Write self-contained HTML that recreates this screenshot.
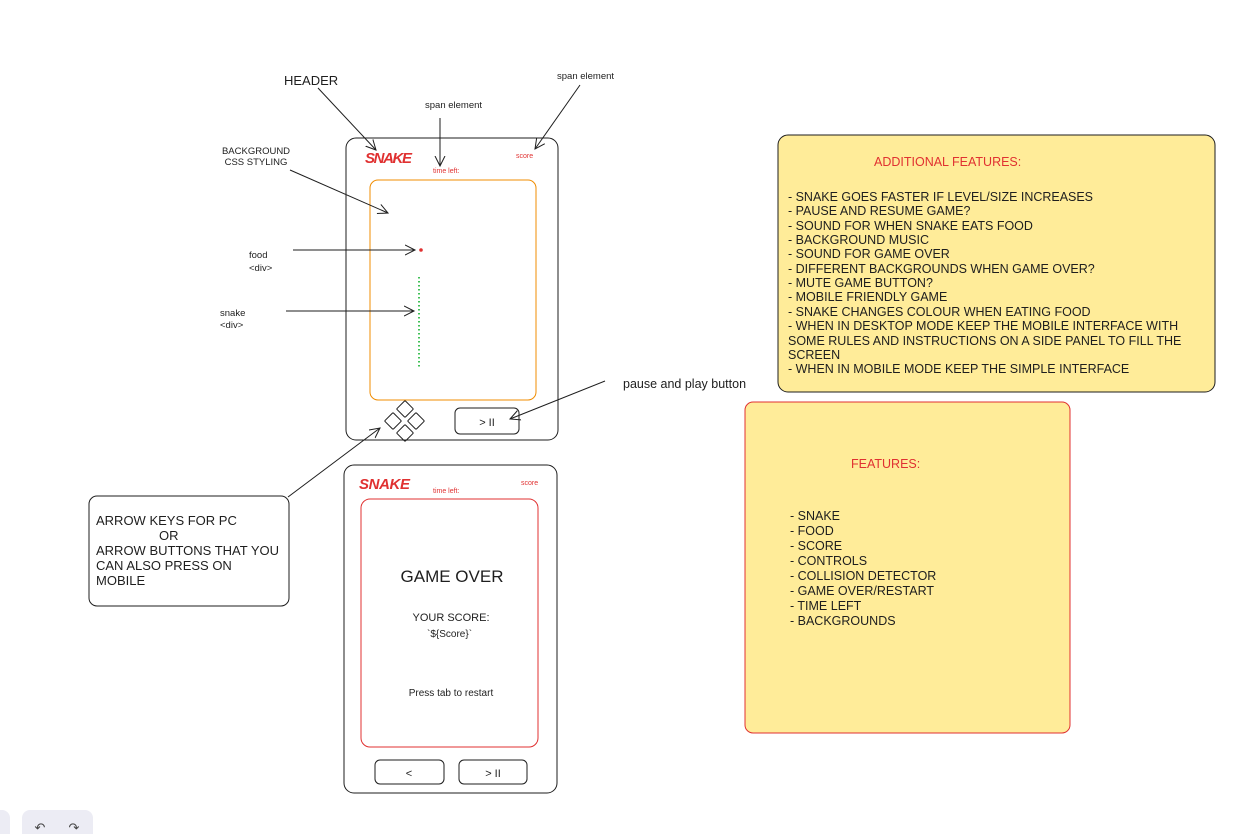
<!DOCTYPE html>
<html><head><meta charset="utf-8"><style>
html,body{margin:0;padding:0;background:#fff;}
svg{display:block;font-family:"Liberation Sans",Arial,sans-serif;}
</style></head><body>
<svg width="1236" height="834" viewBox="0 0 1236 834" xmlns="http://www.w3.org/2000/svg">
<defs>
<marker id="a" markerWidth="12" markerHeight="12" refX="10" refY="6" orient="auto" markerUnits="userSpaceOnUse">
<path d="M0,1 L10,6 L0,11" fill="none" stroke="#1e1e1e" stroke-width="1"/>
</marker>
</defs>
<rect width="1236" height="834" fill="#fff"/>

<!-- phone 1 -->
<rect x="346" y="138" width="212" height="302" rx="10" fill="none" stroke="#1e1e1e" stroke-width="1"/>
<rect x="370" y="180" width="166" height="220" rx="8" fill="none" stroke="#f08c00" stroke-width="1"/>
<text x="365" y="163" font-size="15" font-style="italic" font-weight="bold" fill="#e03131" textLength="47">SNAKE</text>
<text x="516" y="158" font-size="7" fill="#e03131">score</text>
<text x="433" y="173" font-size="7" fill="#e03131">time left:</text>
<circle cx="421" cy="250" r="1.8" fill="#e03131"/>
<line x1="419" y1="277" x2="419" y2="368" stroke="#40c057" stroke-width="2" stroke-dasharray="1.5,2.5"/>
<g fill="none" stroke="#1e1e1e" stroke-width="1">
<rect x="-6" y="-6" width="12" height="12" rx="1" transform="translate(405,409) rotate(45)"/>
<rect x="-6" y="-6" width="12" height="12" rx="1" transform="translate(393,421) rotate(45)"/>
<rect x="-6" y="-6" width="12" height="12" rx="1" transform="translate(416,421) rotate(45)"/>
<rect x="-6" y="-6" width="12" height="12" rx="1" transform="translate(405,433) rotate(45)"/>
<rect x="455" y="408" width="64" height="26" rx="5"/>
</g>
<text x="487" y="426" font-size="11" text-anchor="middle" fill="#1e1e1e">&gt; II</text>

<!-- phone 2 -->
<rect x="344" y="465" width="213" height="328" rx="10" fill="none" stroke="#1e1e1e" stroke-width="1"/>
<rect x="361" y="499" width="177" height="248" rx="9" fill="none" stroke="#e03131" stroke-width="1"/>
<text x="359" y="489" font-size="15" font-style="italic" font-weight="bold" fill="#e03131" textLength="51">SNAKE</text>
<text x="521" y="485" font-size="7" fill="#e03131">score</text>
<text x="433" y="493" font-size="7" fill="#e03131">time left:</text>
<text x="452" y="582" font-size="17" text-anchor="middle" fill="#1e1e1e">GAME  OVER</text>
<text x="451" y="621" font-size="11" text-anchor="middle" fill="#1e1e1e">YOUR SCORE:</text>
<text x="427" y="637" font-size="10" fill="#1e1e1e">`${Score}`</text>
<text x="451" y="696" font-size="10" text-anchor="middle" fill="#1e1e1e">Press tab to restart</text>
<rect x="375" y="760" width="69" height="24" rx="5" fill="none" stroke="#1e1e1e"/>
<rect x="459" y="760" width="68" height="24" rx="5" fill="none" stroke="#1e1e1e"/>
<text x="409" y="777" font-size="11" text-anchor="middle" fill="#1e1e1e">&lt;</text>
<text x="493" y="777" font-size="11" text-anchor="middle" fill="#1e1e1e">&gt; II</text>

<!-- labels -->
<text x="284" y="85" font-size="13" fill="#1e1e1e">HEADER</text>
<text x="425" y="108" font-size="9.5" fill="#1e1e1e">span element</text>
<text x="557" y="79" font-size="9.5" fill="#1e1e1e">span element</text>
<text x="256" y="154" font-size="9.5" text-anchor="middle" fill="#1e1e1e">BACKGROUND</text>
<text x="256" y="165" font-size="9.5" text-anchor="middle" fill="#1e1e1e">CSS STYLING</text>
<text x="249" y="258" font-size="9.5" fill="#1e1e1e">food</text>
<text x="249" y="271" font-size="9.5" fill="#1e1e1e">&lt;div&gt;</text>
<text x="220" y="316" font-size="9.5" fill="#1e1e1e">snake</text>
<text x="220" y="328" font-size="9.5" fill="#1e1e1e">&lt;div&gt;</text>
<text x="623" y="388" font-size="12.5" fill="#1e1e1e">pause and play button</text>

<!-- arrows -->
<g stroke="#1e1e1e" stroke-width="1" fill="none" marker-end="url(#a)">
<line x1="318" y1="88" x2="376" y2="150"/>
<line x1="440" y1="118" x2="440" y2="166"/>
<line x1="580" y1="85" x2="535" y2="149"/>
<line x1="290" y1="170" x2="388" y2="213"/>
<line x1="293" y1="250" x2="415" y2="250"/>
<line x1="286" y1="311" x2="414" y2="311"/>
<line x1="605" y1="381" x2="510" y2="419"/>
<line x1="288" y1="497" x2="380" y2="428"/>
</g>

<!-- arrow keys box -->
<rect x="89" y="496" width="200" height="110" rx="8" fill="#fff" stroke="#1e1e1e"/>
<g font-size="13" fill="#1e1e1e">
<text x="96" y="525">ARROW KEYS FOR PC</text>
<text x="159" y="540">OR</text>
<text x="96" y="555">ARROW BUTTONS THAT YOU</text>
<text x="96" y="570">CAN ALSO PRESS ON</text>
<text x="96" y="585">MOBILE</text>
</g>

<!-- additional features -->
<rect x="778" y="135" width="437" height="257" rx="10" fill="#ffec99" stroke="#1e1e1e"/>
<text x="874" y="166" font-size="12.5" fill="#e03131">ADDITIONAL FEATURES:</text>
<g font-size="12.5" fill="#1e1e1e">
<text x="788" y="201" textLength="305">- SNAKE GOES FASTER IF LEVEL/SIZE INCREASES</text>
<text x="788" y="215">- PAUSE AND RESUME GAME?</text>
<text x="788" y="230">- SOUND FOR WHEN SNAKE EATS FOOD</text>
<text x="788" y="244">- BACKGROUND MUSIC</text>
<text x="788" y="258">- SOUND FOR GAME OVER</text>
<text x="788" y="273">- DIFFERENT BACKGROUNDS WHEN GAME OVER?</text>
<text x="788" y="287">- MUTE GAME BUTTON?</text>
<text x="788" y="301">- MOBILE FRIENDLY GAME</text>
<text x="788" y="316">- SNAKE CHANGES COLOUR WHEN EATING FOOD</text>
<text x="788" y="330">- WHEN IN DESKTOP MODE KEEP THE MOBILE INTERFACE WITH</text>
<text x="788" y="345">SOME RULES AND INSTRUCTIONS ON A SIDE PANEL TO FILL THE</text>
<text x="788" y="359">SCREEN</text>
<text x="788" y="373">- WHEN IN MOBILE MODE KEEP THE SIMPLE INTERFACE</text>
</g>

<!-- features -->
<rect x="745" y="402" width="325" height="331" rx="8" fill="#ffec99" stroke="#e03131"/>
<text x="851" y="468" font-size="12.5" fill="#e03131">FEATURES:</text>
<g font-size="12.5" fill="#1e1e1e">
<text x="790" y="520">- SNAKE</text>
<text x="790" y="535">- FOOD</text>
<text x="790" y="550">- SCORE</text>
<text x="790" y="565">- CONTROLS</text>
<text x="790" y="580">- COLLISION DETECTOR</text>
<text x="790" y="595">- GAME OVER/RESTART</text>
<text x="790" y="610">- TIME LEFT</text>
<text x="790" y="625">- BACKGROUNDS</text>
</g>

<!-- toolbar -->
<rect x="-10" y="810" width="20" height="40" rx="8" fill="#ececf4"/>
<rect x="22" y="810" width="71" height="40" rx="8" fill="#ececf4"/>
<text x="40" y="832" font-size="13" text-anchor="middle" fill="#444">↶</text>
<text x="74" y="832" font-size="13" text-anchor="middle" fill="#444">↷</text>
</svg>
</body></html>
